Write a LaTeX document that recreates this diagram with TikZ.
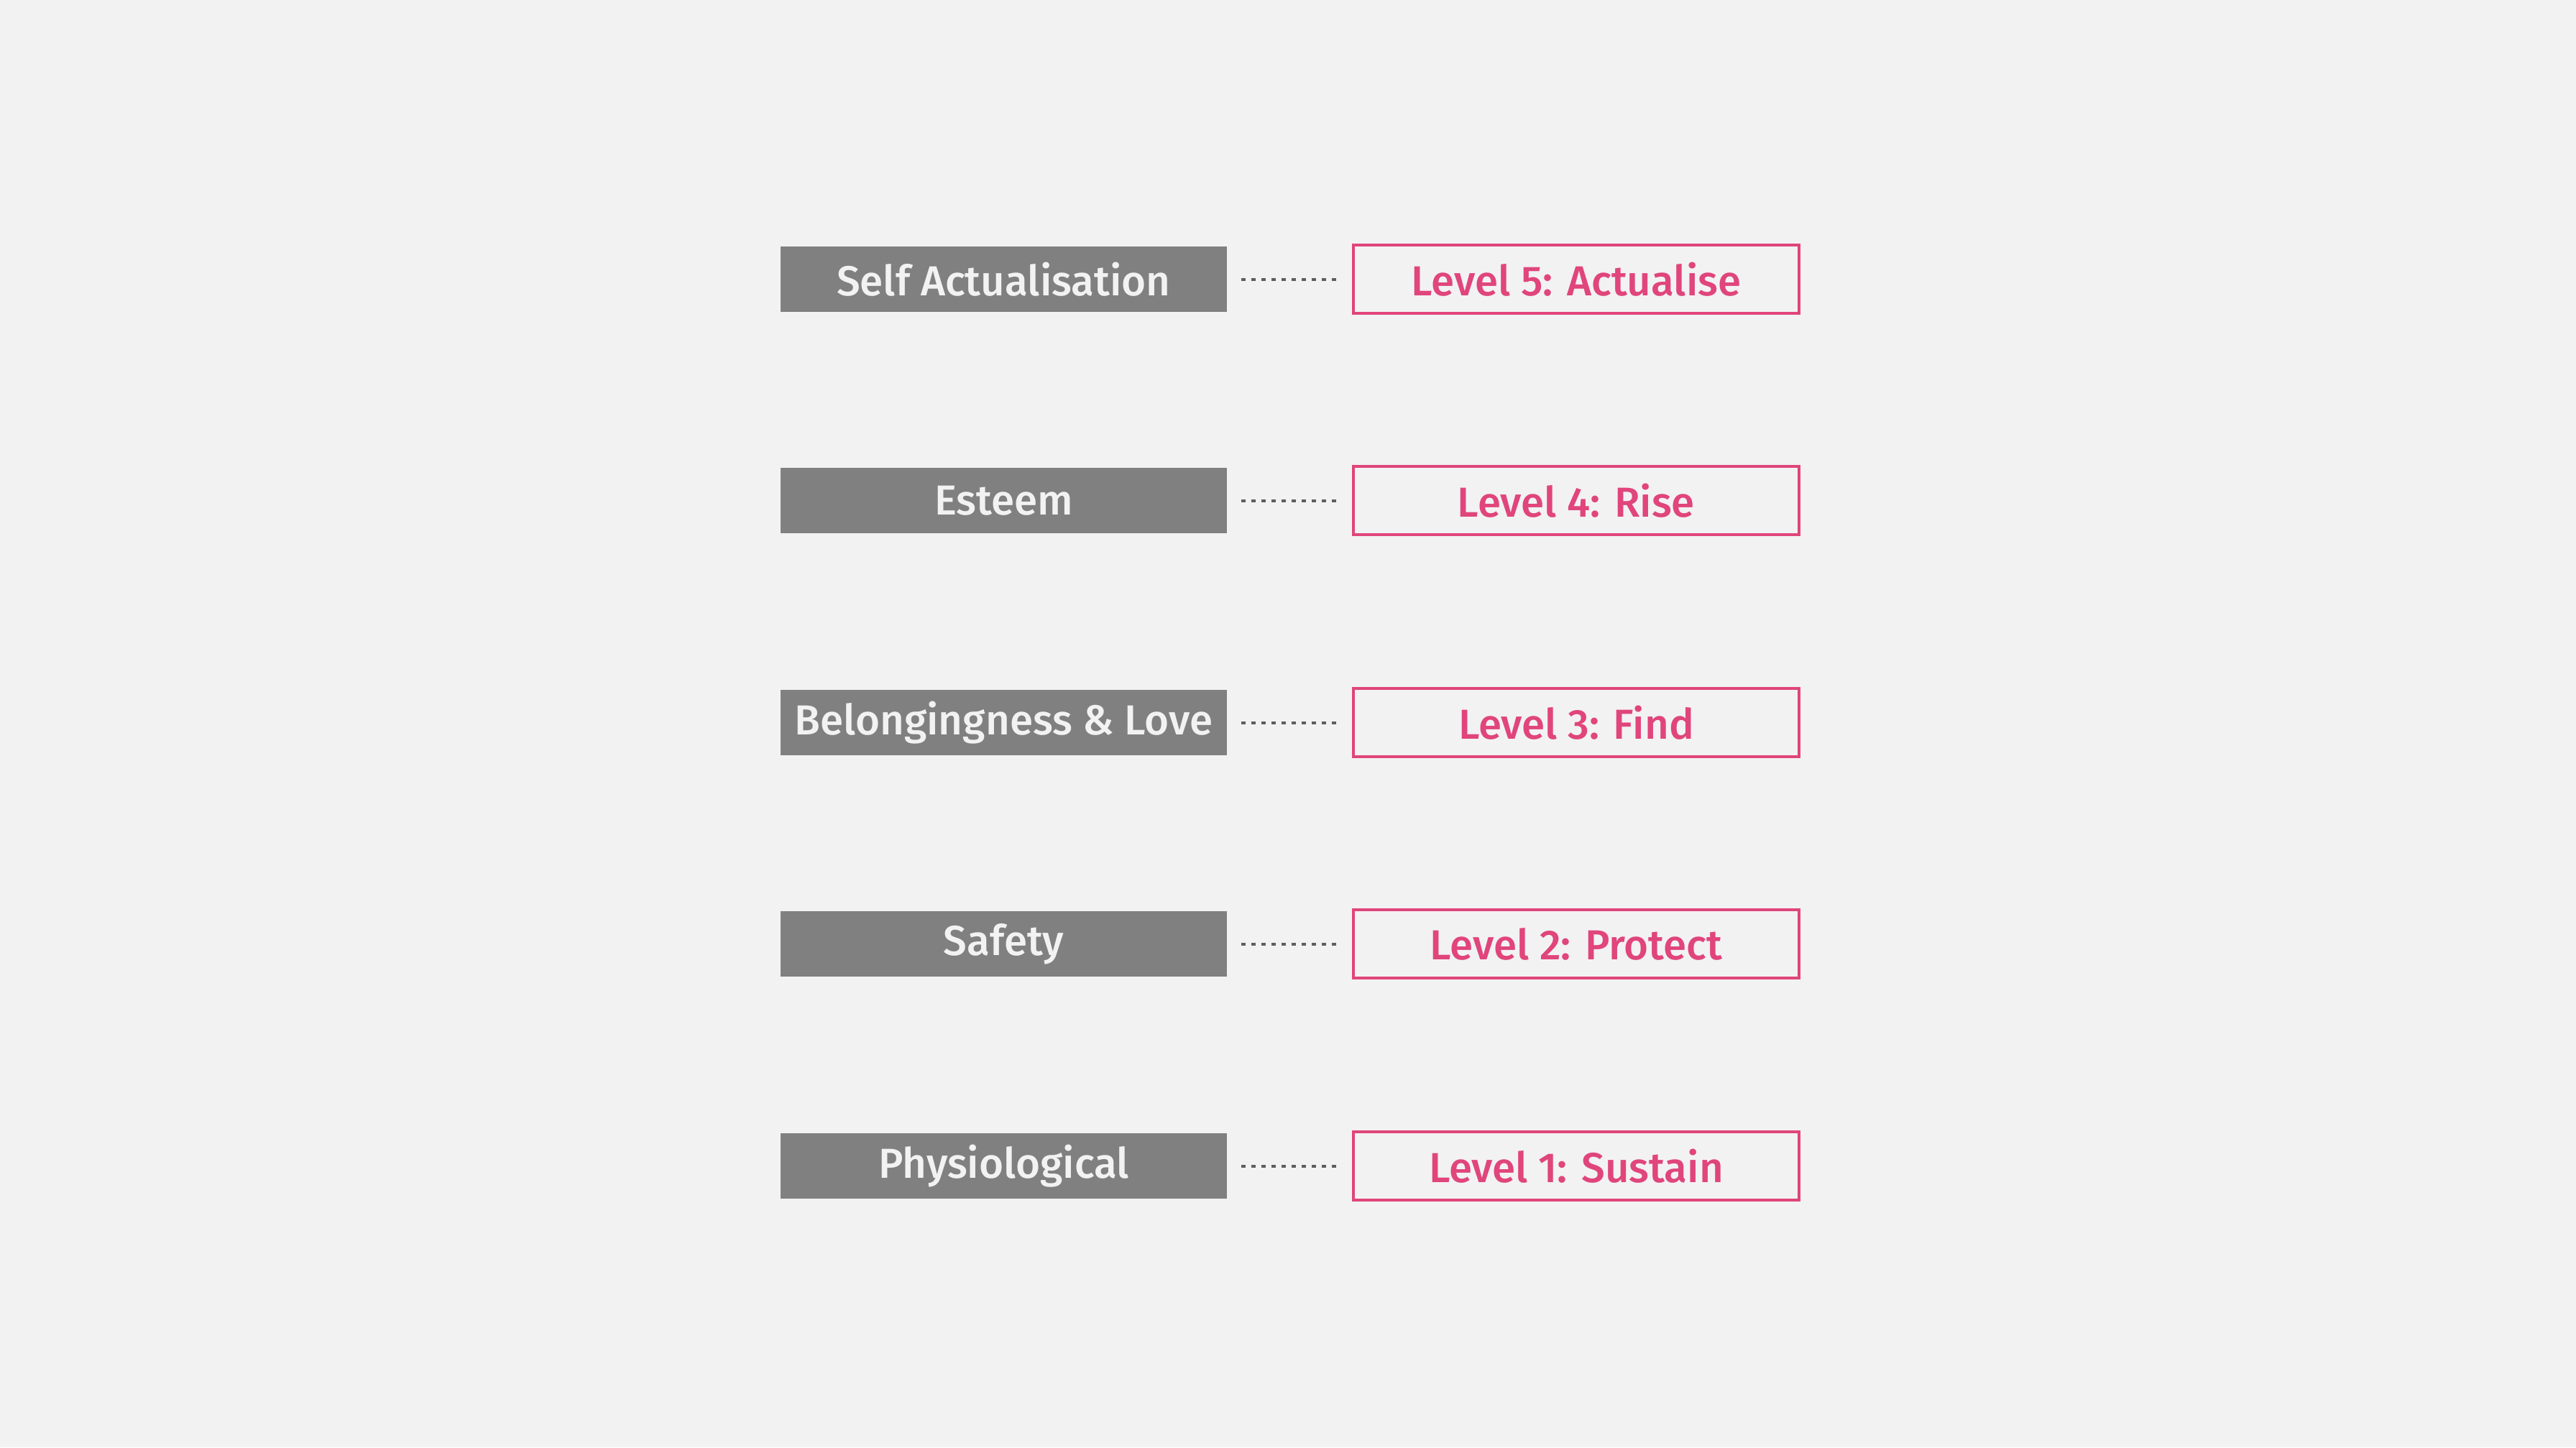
\documentclass[tikz,border=0pt]{standalone}
\usepackage{fontspec}
\setmainfont{Fira Sans}[BoldFont={Fira Sans Medium}]
\usepackage{tikz}
\usetikzlibrary{positioning}

\definecolor{bg}{HTML}{F2F2F2}
\definecolor{need}{HTML}{808080}
\definecolor{lvl}{HTML}{E0457B}
\definecolor{dots}{HTML}{5E5E5E}

\begin{document}
\begin{tikzpicture}
                [needbox/.style={fill=need, text=bg, minimum width=6.21cm, minimum height=0.91cm, inner sep=0pt, font=\fontsize{16.6}{20}\selectfont\bfseries},
                 levelbox/.style={draw=lvl, line width=0.04cm, text=lvl, minimum width=6.20cm, minimum height=0.95cm, inner sep=0pt, font=\fontsize{16.6}{20}\selectfont\bfseries},
                 link/.style={draw=dots, line width=0.04cm, dash pattern=on 0.06cm off 0.08cm, shorten <=0.19cm, shorten >=0.22cm}]
                \fill[bg] (0,0) rectangle (35.84,20.14);
                \useasboundingbox (0,0) rectangle (35.84,20.14);

                \node[needbox] (g5) at (13.965, 16.25) {Self Actualisation};
                \node[needbox] (g4) at (13.965, 13.17) {Esteem};
                \node[needbox] (g3) at (13.965, 10.08) {Belongingness \& Love};
                \node[needbox] (g2) at (13.965, 7.00) {Safety};
                \node[needbox] (g1) at (13.965, 3.91) {Physiological};

                \node[levelbox] (l5) at (21.93, 16.25) {Level 5: Actualise};
                \node[levelbox] (l4) at (21.93, 13.17) {Level 4: Rise};
                \node[levelbox] (l3) at (21.93, 10.08) {Level 3: Find};
                \node[levelbox] (l2) at (21.93, 7.00) {Level 2: Protect};
                \node[levelbox] (l1) at (21.93, 3.91) {Level 1: Sustain};

                \foreach \from\to in {g1/l1,g2/l2,g3/l3,g4/l4,g5/l5}
                    \draw[link] (\from) -- (\to);

            \end{tikzpicture}
\end{document}
